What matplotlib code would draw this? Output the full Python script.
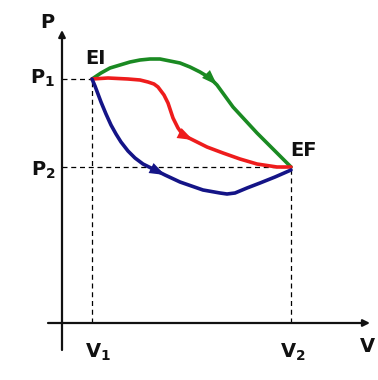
import matplotlib.pyplot as plt

# state points (V, P) measured from the axis origin
V1, V2 = 30, 229
P1, P2 = 244, 156

# three paths from EI to EF
green_v = [30, 39, 48, 58, 68, 78, 88, 98, 108, 118, 128, 138, 148, 155, 163, 171, 183, 195, 205, 215, 222, 229]
green_p = [244, 250, 255, 258, 261, 263, 264, 264, 262, 260, 256, 251, 245, 238, 227, 216, 203, 190, 180, 170, 163, 156]

red_v = [30, 46, 66, 78, 86, 92, 96, 99, 102, 106, 111, 116, 121, 131, 145, 161, 178, 195, 215, 229]
red_p = [244, 245, 244, 243, 241, 239, 236, 232, 228, 220, 205, 195, 188, 183, 176, 170, 164, 159, 156, 156]

blue_v = [30, 33, 36, 39, 44, 49, 54, 59, 66, 73, 81, 89, 103, 118, 141, 158, 165, 173, 185, 198, 213, 229]
blue_p = [244, 237, 229, 221, 209, 198, 189, 181, 172, 165, 159, 155, 148, 141, 133, 130, 129, 130, 135, 140, 146, 153]

# index of the curve point where each arrowhead sits
green_k, red_k, blue_k = 13, 13, 12

plt.figure(figsize=(3.78, 3.80), dpi=100)
ax = plt.axes([0, 0, 1, 1])
ax.set_xlim(-62, 316)
ax.set_ylim(-57, 323)
ax.axis('off')

# axes with arrows
ax.annotate('', xy=(0, 293), xytext=(0, -27),
            arrowprops=dict(arrowstyle='-|>', color='#111111', lw=1.6, mutation_scale=10, shrinkA=0, shrinkB=0))
ax.annotate('', xy=(308, 0), xytext=(-14, 0),
            arrowprops=dict(arrowstyle='-|>', color='#111111', lw=1.6, mutation_scale=10, shrinkA=0, shrinkB=0))

# dashed guides
ax.plot([0, V1], [P1, P1], 'k--', lw=0.9, dashes=(4, 3))
ax.plot([0, V2], [P2, P2], 'k--', lw=0.9, dashes=(4, 3))
ax.plot([V1, V1], [0, P1], 'k--', lw=0.9, dashes=(4, 3))
ax.plot([V2, V2], [0, P2], 'k--', lw=0.9, dashes=(4, 3))

paths = [(green_v, green_p, '#1a8a22', green_k),
         (red_v, red_p, '#ee1c1c', red_k),
         (blue_v, blue_p, '#141487', blue_k)]
for v, p, c, k in paths:
    ax.plot(v, p, color=c, lw=2.6, solid_capstyle='round', solid_joinstyle='round')
    ax.annotate('', xy=(v[k], p[k]), xytext=(v[k - 1], p[k - 1]),
                arrowprops=dict(arrowstyle='-|>,head_length=0.7,head_width=0.25', color=c, lw=0,
                                mutation_scale=16, shrinkA=0, shrinkB=0))

font = dict(fontsize=14, fontweight='bold', color='#111111')
ax.text(-15, 301, 'P', ha='center', va='center', **font)
ax.text(305, -24, 'V', ha='center', va='center', **font)
ax.text(-19, P1 + 1, r'$\mathregular{P_1}$', ha='center', va='center', **font)
ax.text(-19, P2 - 3, r'$\mathregular{P_2}$', ha='center', va='center', **font)
ax.text(V1 + 6, -29, r'$\mathregular{V_1}$', ha='center', va='center', **font)
ax.text(V2 + 2, -29, r'$\mathregular{V_2}$', ha='center', va='center', **font)
ax.text(V1 + 3, P1 + 21, 'EI', ha='center', va='center', **font)
ax.text(V2 + 12, P2 + 17, 'EF', ha='center', va='center', **font)

plt.savefig('out.png', dpi=100)
